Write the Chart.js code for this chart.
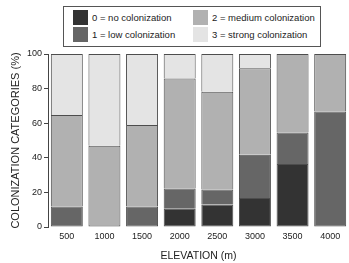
<!DOCTYPE html>
<html>
<head>
<meta charset="utf-8">
<script src="https://cdn.jsdelivr.net/npm/chart.js@4"></script>
<style>
  html, body { margin: 0; padding: 0; background: #fff; }
  #wrap { position: relative; width: 349px; height: 263px; }
  #legend {
    position: absolute; left: 63px; top: 6px; width: 256px; height: 39px;
    border: 1px solid #555; background: #fff;
    font-family: "Liberation Sans", Arial, sans-serif; font-size: 9.5px; color: #222;
  }
  #legend .item { position: absolute; height: 15px; line-height: 15px; white-space: nowrap; }
  #legend .box { display: inline-block; width: 15px; height: 15px; vertical-align: top; margin-right: 4px; }
</style>
</head>
<body>
<div id="wrap">
  <canvas id="chart" width="349" height="263"></canvas>
  <div id="legend"></div>
</div>
<script>
// categories (elevation, m)
const elevations = ["500", "1000", "1500", "2000", "2500", "3000", "3500", "4000"];
// colonization categories, % of samples
const noColon = [0, 0, 0, 10.6, 13.0, 16.7, 36.4, 0];
const lowColon = [11.8, 0, 11.8, 11.6, 8.7, 25.0, 18.2, 66.7];
const mediumColon = [52.9, 47.0, 47.1, 63.6, 56.5, 50.0, 45.4, 33.3];
const strongColon = [35.3, 53.0, 41.1, 14.2, 21.8, 8.3, 0, 0];
const yTicks = [0, 20, 40, 60, 80, 100];

const seriesNames = ["0 = no colonization", "1 = low colonization", "2 = medium colonization", "3 = strong colonization"];
const seriesColors = ["#333333", "#666666", "#b1b1b1", "#e4e4e4"];
const seriesData = [noColon, lowColon, mediumColon, strongColon];

const font = "'Liberation Sans', Arial, sans-serif";

// lowest non-empty segment of a stack keeps its bottom edge
function isFirstInStack(ctx) {
  for (let k = 0; k < ctx.datasetIndex; k++) {
    if (seriesData[k][ctx.dataIndex]) return false;
  }
  return true;
}

const chart = new Chart(document.getElementById("chart"), {
  type: "bar",
  data: {
    labels: elevations,
    datasets: seriesData.map((d, i) => ({
      label: seriesNames[i],
      data: d,
      backgroundColor: seriesColors[i],
      borderColor: "#4d4d4d",
      borderWidth: (ctx) => (ctx.raw ? 1 : 0),
      borderSkipped: (ctx) => (isFirstInStack(ctx) ? false : "bottom"),
      barPercentage: 0.85,
      categoryPercentage: 1,
      yAxisID: "y",
    })),
  },
  options: {
    responsive: false,
    animation: false,
    layout: { padding: { top: 54, right: 0, bottom: 0, left: 0 } },
    plugins: { legend: { display: false }, tooltip: { enabled: false } },
    scales: {
      x: {
        stacked: true,
        afterFit: (s) => { s.height = 36; },
        grid: { display: false, drawTicks: false },
        border: { display: false },
        ticks: { color: "#222", font: { family: font, size: 9 }, padding: 4 },
        title: {
          display: true, text: "ELEVATION (m)", color: "#222",
          font: { family: font, size: 10.5 }, padding: { top: 0, bottom: 1 },
        },
      },
      y: {
        stacked: true,
        position: "left",
        min: 0, max: 100,
        afterBuildTicks: (s) => { s.ticks = yTicks.map((v) => ({ value: v })); },
        afterFit: (s) => { s.width = 39; },
        grid: { drawOnChartArea: false, tickLength: 4, color: "#444" },
        border: { display: true, color: "#444" },
        ticks: { color: "#222", font: { family: font, size: 9 }, padding: 2 },
        title: {
          display: true, text: "COLONIZATION CATEGORIES (%)", color: "#222",
          font: { family: font, size: 11 }, padding: { top: 0, bottom: 0 },
        },
      },
      // spacer between the y axis and the bars
      gap: {
        position: "left",
        min: 0, max: 100,
        afterFit: (s) => { s.width = 9; },
        grid: { display: false },
        border: { display: false },
        ticks: { display: false },
      },
    },
  },
});

// legend: two columns, read top to bottom
const legend = document.getElementById("legend");
const cols = [9, 129];
const rows = [3, 20];
chart.data.datasets.forEach((ds, i) => {
  const item = document.createElement("div");
  item.className = "item";
  item.style.left = cols[Math.floor(i / 2)] + "px";
  item.style.top = rows[i % 2] + "px";
  item.innerHTML = '<span class="box" style="background:' + ds.backgroundColor + '"></span>' + ds.label;
  legend.appendChild(item);
});
</script>
</body>
</html>
